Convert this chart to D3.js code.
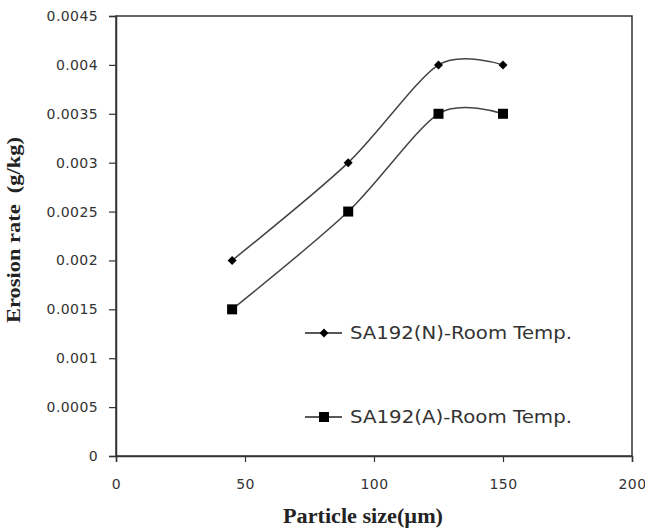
<!DOCTYPE html>
<html>
<head>
<meta charset="utf-8">
<script src="https://cdn.jsdelivr.net/npm/d3@7"></script>
<style>
  body { margin: 0; background: #fff; }
  .tick text { font-family: "DejaVu Sans", Verdana, sans-serif; fill: #333; }
</style>
</head>
<body>
<div id="container"></div>
<script>
// datos del grafico
var particleSizes = [45, 90, 125, 150];
var rateN = [0.002, 0.003, 0.004, 0.004];
var rateA = [0.0015, 0.0025, 0.0035, 0.0035];
var seriesNames = ["SA192(N)-Room Temp.", "SA192(A)-Room Temp."];
var xTicks = [0, 50, 100, 150, 200];
var yTicks = [0, 0.0005, 0.001, 0.0015, 0.002, 0.0025, 0.003, 0.0035, 0.004, 0.0045];

var width = 645, height = 531;
var margin = { top: 16, right: 13, bottom: 75, left: 116 };

var svg = d3.select("#container").append("svg")
    .attr("width", width)
    .attr("height", height);

// escalas
var x = d3.scaleLinear().domain([0, 200]).range([margin.left, width - margin.right]);
var y = d3.scaleLinear().domain([0, 0.0045]).range([height - margin.bottom, margin.top]);

// marco del area de grafico
svg.append("rect")
    .attr("x", x(0)).attr("y", y(0.0045))
    .attr("width", x(200) - x(0)).attr("height", y(0) - y(0.0045))
    .attr("fill", "none").attr("stroke", "#333").attr("stroke-width", 1.5);

// ejes
var xAxis = svg.append("g")
    .attr("transform", "translate(0," + y(0) + ")")
    .call(d3.axisBottom(x).tickValues(xTicks).tickSize(6).tickPadding(17).tickFormat(d3.format("d")));
var yAxis = svg.append("g")
    .attr("transform", "translate(" + x(0) + ",0)")
    .call(d3.axisLeft(y).tickValues(yTicks).tickSize(7).tickPadding(11).tickFormat(function (d) { return +d.toFixed(4) + ""; }));

[xAxis, yAxis].forEach(function (g) {
    g.select(".domain").attr("stroke", "#333").attr("stroke-width", 1.5);
    g.selectAll(".tick line").attr("stroke", "#333").attr("stroke-width", 1.2);
    g.selectAll(".tick text").attr("font-size", 14).attr("letter-spacing", 0.4);
});

// titulos de ejes
svg.append("text")
    .attr("transform", "translate(20," + 230 + ") rotate(-90)")
    .attr("text-anchor", "middle")
    .attr("font-family", "Liberation Serif, Times New Roman, serif")
    .attr("font-weight", "bold")
    .attr("font-size", 18)
    .attr("textLength", 186)
    .attr("lengthAdjust", "spacingAndGlyphs")
    .style("white-space", "pre")
    .attr("fill", "#222")
    .text("Erosion rate  (g/kg)");

svg.append("text")
    .attr("x", 363).attr("y", 523)
    .attr("text-anchor", "middle")
    .attr("font-family", "Liberation Serif, Times New Roman, serif")
    .attr("font-weight", "bold")
    .attr("font-size", 20)
    .attr("textLength", 160)
    .attr("lengthAdjust", "spacingAndGlyphs")
    .attr("fill", "#222")
    .text("Particle size(\u00b5m)");

// lineas suavizadas
var line = d3.line()
    .x(function (d) { return x(d[0]); })
    .y(function (d) { return y(d[1]); })
    .curve(d3.curveCardinal.tension(0.15));

var series = [
    { name: seriesNames[0], values: d3.zip(particleSizes, rateN), marker: "diamond" },
    { name: seriesNames[1], values: d3.zip(particleSizes, rateA), marker: "square" }
];

function drawMarker(g, type, cx, cy) {
    if (type === "diamond") {
        g.append("path")
            .attr("d", "M" + cx + "," + (cy - 4.5) + "L" + (cx + 4.5) + "," + cy + "L" + cx + "," + (cy + 4.5) + "L" + (cx - 4.5) + "," + cy + "Z")
            .attr("fill", "#000");
    } else {
        g.append("rect")
            .attr("x", cx - 5).attr("y", cy - 5)
            .attr("width", 10).attr("height", 10)
            .attr("fill", "#000");
    }
}

series.forEach(function (s) {
    svg.append("path")
        .datum(s.values)
        .attr("d", line)
        .attr("fill", "none")
        .attr("stroke", "#444")
        .attr("stroke-width", 1.5);
    var g = svg.append("g");
    s.values.forEach(function (d) { drawMarker(g, s.marker, x(d[0]), y(d[1])); });
});

// leyenda dentro del grafico
var legendY = [333, 417];
series.forEach(function (s, i) {
    var g = svg.append("g");
    g.append("line")
        .attr("x1", 305).attr("x2", 342)
        .attr("y1", legendY[i]).attr("y2", legendY[i])
        .attr("stroke", "#222").attr("stroke-width", 1.5);
    drawMarker(g, s.marker, 324, legendY[i]);
    g.append("text")
        .attr("x", 350).attr("y", legendY[i] + 6)
        .attr("font-family", "DejaVu Sans, Verdana, sans-serif")
        .attr("font-size", 17)
        .attr("textLength", 222)
        .attr("lengthAdjust", "spacingAndGlyphs")
        .attr("fill", "#333")
        .text(s.name);
});
</script>
</body>
</html>
